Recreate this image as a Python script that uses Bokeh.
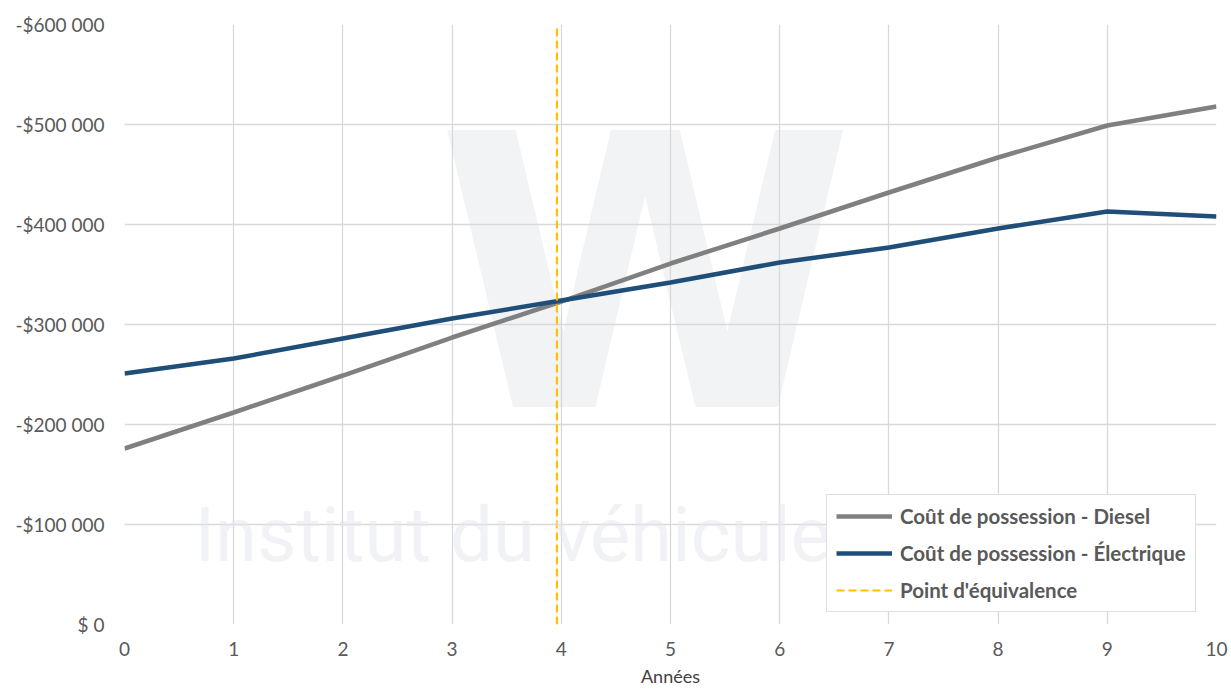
from bokeh.plotting import figure
from bokeh.models import (ColumnDataSource, FixedTicker, CustomJSTickFormatter,
                          Legend, LegendItem, Label, Range1d)
from bokeh.embed import file_html
from bokeh.resources import INLINE

# Total cost of ownership over time (values shown as costs, i.e. negative dollars)
years = [0, 1, 2, 3, 4, 5, 6, 7, 8, 9, 10]
cost_diesel = [176000, 212000, 249000, 287000, 323000, 361000, 396000, 432000, 467000, 499000, 518000]
cost_electric = [251000, 266000, 286000, 306000, 324000, 342000, 362000, 377000, 396000, 413000, 408000]
break_even_year = 3.96

y_ticks = [0, 100000, 200000, 300000, 400000, 500000, 600000]
x_ticks = years

label_names = ["Coût de possession - Diesel",
               "Coût de possession - Électrique",
               "Point d'équivalence"]

FONT = "Lato"
TEXT_COLOR = "#595959"
GRID_COLOR = "#d9d9d9"

p = figure(width=1231, height=689, output_backend="svg", toolbar_location=None,
           x_range=Range1d(0, 10), y_range=Range1d(0, 600000),
           min_border_left=124, min_border_right=15, min_border_top=24,
           min_border_bottom=65)
p.outline_line_color = None
p.background_fill_color = "white"
p.border_fill_color = "white"

# faint institute watermark: logo behind the grid, name over everything
logo = Label(x=4.77, y=349000, text="W", text_font="DejaVu Sans", text_font_style="bold",
             text_font_size="380px", text_color="#f2f3f5", text_align="center",
             text_baseline="alphabetic", level="image")
p.add_layout(logo)
brand = Label(x=0.64, y=90000, text="Institut du véhicule innovant",
              text_font="Roboto", text_font_size="76px",
              text_color="#e3e7ec", text_alpha=0.55, text_align="left",
              text_baseline="alphabetic", level="overlay")
p.add_layout(brand)

src = ColumnDataSource(dict(year=years, diesel=cost_diesel, electric=cost_electric))
r_diesel = p.line("year", "diesel", source=src, line_color="#808080", line_width=4.5)
r_elec = p.line("year", "electric", source=src, line_color="#1f4e79", line_width=4.5)
eq_src = ColumnDataSource(dict(x=[break_even_year, break_even_year], y=[y_ticks[0], y_ticks[-1]]))
r_eq = p.line("x", "y", source=eq_src, line_color="#ffc000", line_width=2.2,
              line_dash="8 4")

# axes
p.xaxis.ticker = FixedTicker(ticks=x_ticks)
p.yaxis.ticker = FixedTicker(ticks=y_ticks)
p.yaxis.formatter = CustomJSTickFormatter(code="""
    if (tick == 0) { return '$ 0'; }
    const s = Math.round(Math.abs(tick)).toString().replace(/\\B(?=(\\d{3})+(?!\\d))/g, ' ');
    return '-$' + s;
""")
for ax in (p.xaxis, p.yaxis):
    ax.axis_line_color = None
    ax.major_tick_line_color = None
    ax.minor_tick_line_color = None
    ax.major_tick_in = 0
    ax.major_tick_out = 0
    ax.minor_tick_in = 0
    ax.minor_tick_out = 0
    ax.major_label_text_font = FONT
    ax.major_label_text_font_size = "19px"
    ax.major_label_text_color = TEXT_COLOR
p.yaxis.major_label_standoff = 20
p.xaxis.major_label_standoff = 17
p.xaxis.axis_label = "Années"
p.xaxis.axis_label_text_font = FONT
p.xaxis.axis_label_text_font_size = "18px"
p.xaxis.axis_label_text_font_style = "normal"
p.xaxis.axis_label_text_color = "#404040"
p.xaxis.axis_label_standoff = 6

p.xgrid.grid_line_color = GRID_COLOR
p.ygrid.grid_line_color = GRID_COLOR
p.xgrid.grid_line_width = 1.3
p.ygrid.grid_line_width = 1.3

legend = Legend(items=[LegendItem(label=label_names[0], renderers=[r_diesel]),
                       LegendItem(label=label_names[1], renderers=[r_elec]),
                       LegendItem(label=label_names[2], renderers=[r_eq])],
                location=(702, 12))
legend.label_text_font = FONT
legend.label_text_font_style = "bold"
legend.label_text_font_size = "20.5px"
legend.label_text_color = TEXT_COLOR
legend.glyph_width = 56
legend.glyph_height = 20
legend.label_height = 20
legend.label_standoff = 8
legend.spacing = 13
legend.padding = 9
legend.margin = 0
legend.border_line_color = "#bfbfbf"
legend.border_line_width = 1.5
legend.background_fill_color = "white"
legend.background_fill_alpha = 1.0
p.add_layout(legend, "center")

open("out.html", "w").write(file_html(p, INLINE))
